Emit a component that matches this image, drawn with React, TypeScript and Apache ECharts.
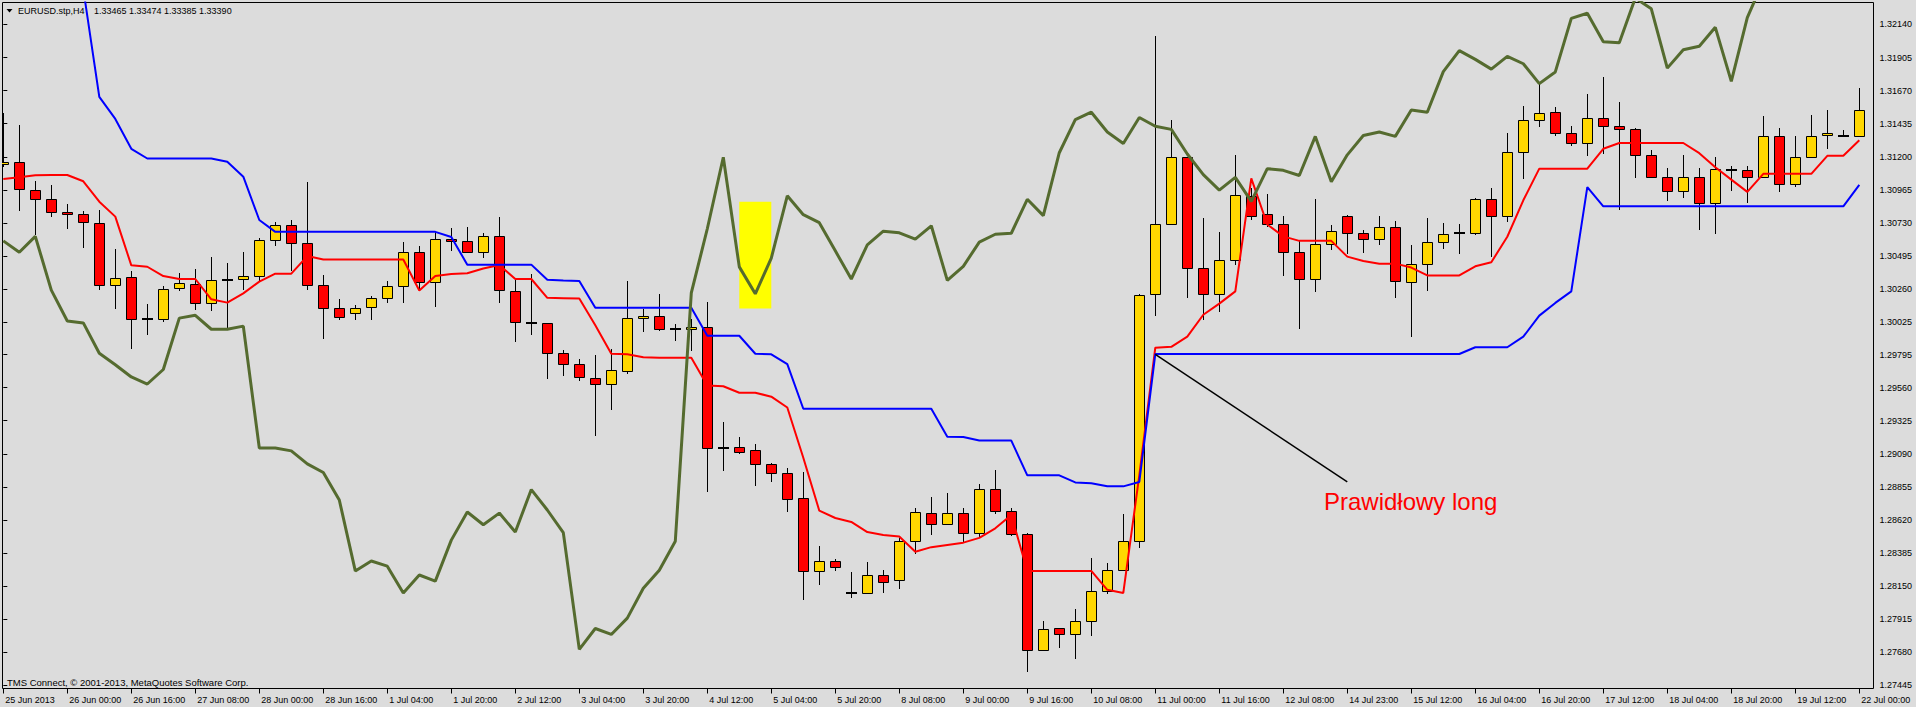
import React, { useEffect, useRef } from "react";
import * as echarts from "echarts";

// ---- tick labels ----
const xTickLabels = [
  "25 Jun 2013", "26 Jun 00:00", "26 Jun 16:00", "27 Jun 08:00", "28 Jun 00:00", "28 Jun 16:00",
  "1 Jul 04:00", "1 Jul 20:00", "2 Jul 12:00", "3 Jul 04:00", "3 Jul 20:00", "4 Jul 12:00",
  "5 Jul 04:00", "5 Jul 20:00", "8 Jul 08:00", "9 Jul 00:00", "9 Jul 16:00", "10 Jul 08:00",
  "11 Jul 00:00", "11 Jul 16:00", "12 Jul 08:00", "14 Jul 23:00", "15 Jul 12:00", "16 Jul 04:00",
  "16 Jul 20:00", "17 Jul 12:00", "18 Jul 04:00", "18 Jul 20:00", "19 Jul 12:00", "22 Jul 00:00",
];
const yTickValues = [
  1.27445, 1.2768, 1.27915, 1.2815, 1.28385, 1.2862, 1.28855, 1.2909, 1.29325, 1.2956, 1.29795,
  1.30025, 1.3026, 1.30495, 1.3073, 1.30965, 1.312, 1.31435, 1.3167, 1.31905, 1.3214,
];

// ---- candles (H4 EURUSD) ----
const opens = [
  1.31149, 1.31161, 1.30962, 1.30898, 1.30806, 1.30792, 1.30728, 1.30287, 1.30344, 1.3005,
  1.3005, 1.30266, 1.30294, 1.30159, 1.30325, 1.3033, 1.30351, 1.30607, 1.30714, 1.30586,
  1.30287, 1.30124, 1.30088, 1.30131, 1.30195, 1.3028, 1.30522, 1.30313, 1.30614, 1.306,
  1.30521, 1.30635, 1.30245, 1.30021, 1.30016, 1.29804, 1.29725, 1.29627, 1.29585, 1.29681,
  1.30053, 1.30071, 1.29975, 1.29975, 1.29994, 1.29129, 1.29136, 1.29115, 1.29016, 1.28952,
  1.28776, 1.28255, 1.28326, 1.28103, 1.28098, 1.28226, 1.28192, 1.28469, 1.28669, 1.2859,
  1.28671, 1.2853, 1.28837, 1.28687, 1.28524, 1.27696, 1.27852, 1.27809, 1.27905, 1.28118,
  1.28268, 1.28468, 1.30225, 1.30726, 1.31198, 1.3041, 1.30225, 1.30469, 1.30922, 1.30791,
  1.30726, 1.30522, 1.30332, 1.30578, 1.30776, 1.30657, 1.30616, 1.30703, 1.3031, 1.30435,
  1.30594, 1.30657, 1.30657, 1.30898, 1.30779, 1.31232, 1.3146, 1.31521, 1.3137, 1.31295,
  1.31479, 1.31417, 1.31395, 1.31216, 1.3106, 1.3096, 1.31054, 1.30875, 1.31107, 1.31104,
  1.3106, 1.31345, 1.3101, 1.31201, 1.31354, 1.31345, 1.31345,
];
const highs = [
  1.31511, 1.31426, 1.31028, 1.31001, 1.30865, 1.30815, 1.30822, 1.30545, 1.30389, 1.30154,
  1.30282, 1.30375, 1.30403, 1.30488, 1.30443, 1.30524, 1.30621, 1.30737, 1.30751, 1.31021,
  1.30361, 1.30188, 1.30147, 1.30211, 1.30318, 1.30595, 1.30566, 1.30668, 1.30696, 1.30703,
  1.30659, 1.30772, 1.30332, 1.30364, 1.30021, 1.29828, 1.29764, 1.29791, 1.29833, 1.30318,
  1.30117, 1.30225, 1.30012, 1.30046, 1.30169, 1.29314, 1.29208, 1.29158, 1.29023, 1.28987,
  1.28961, 1.28434, 1.2834, 1.28254, 1.28323, 1.28263, 1.28491, 1.28705, 1.28783, 1.28812,
  1.28702, 1.28874, 1.28974, 1.28702, 1.2853, 1.27905, 1.27855, 1.2799, 1.2835, 1.28314,
  1.28662, 1.30225, 1.32058, 1.3146, 1.312, 1.30766, 1.30666, 1.31214, 1.30978, 1.30938,
  1.30782, 1.30601, 1.30901, 1.30716, 1.30785, 1.30682, 1.30779, 1.30741, 1.30572, 1.30766,
  1.30728, 1.30726, 1.30907, 1.30979, 1.3137, 1.31564, 1.3172, 1.31554, 1.31417, 1.31648,
  1.31767, 1.31589, 1.31408, 1.31245, 1.3112, 1.31214, 1.3112, 1.31198, 1.31138, 1.31132,
  1.31489, 1.31404, 1.31345, 1.31498, 1.31533, 1.31392, 1.31689,
];
const lows = [
  1.31128, 1.30817, 1.30645, 1.30775, 1.30689, 1.30554, 1.30254, 1.30119, 1.29833, 1.29936,
  1.30029, 1.30249, 1.30112, 1.30107, 1.29975, 1.30254, 1.30313, 1.30569, 1.30391, 1.30254,
  1.29904, 1.30043, 1.30041, 1.30043, 1.30164, 1.30164, 1.30249, 1.30131, 1.30533, 1.30518,
  1.30478, 1.30164, 1.29887, 1.29934, 1.29623, 1.29643, 1.29604, 1.29219, 1.29404, 1.29659,
  1.29958, 1.29965, 1.29894, 1.29823, 1.2882, 1.2897, 1.29087, 1.28864, 1.28892, 1.28679,
  1.28049, 1.2816, 1.28261, 1.28069, 1.28095, 1.28103, 1.28132, 1.28377, 1.28514, 1.28584,
  1.28459, 1.28493, 1.28662, 1.28506, 1.27543, 1.27693, 1.27711, 1.27633, 1.27799, 1.28093,
  1.28265, 1.28421, 1.30069, 1.30719, 1.30194, 1.30044, 1.301, 1.30431, 1.3075, 1.30703,
  1.30351, 1.29978, 1.30241, 1.30538, 1.30507, 1.3052, 1.30572, 1.30194, 1.29922, 1.30244,
  1.30544, 1.30513, 1.30641, 1.30485, 1.30735, 1.31045, 1.31413, 1.31345, 1.31276, 1.31204,
  1.3122, 1.30819, 1.31051, 1.31051, 1.30888, 1.3091, 1.30682, 1.30654, 1.3096, 1.30873,
  1.31057, 1.30951, 1.30988, 1.31194, 1.31254, 1.31345, 1.31345,
];
const closes = [
  1.31163, 1.30969, 1.30898, 1.30806, 1.30792, 1.30735, 1.30287, 1.30337, 1.30046, 1.3005,
  1.30259, 1.30301, 1.30159, 1.30323, 1.30325, 1.30351, 1.30607, 1.30714, 1.30586, 1.30287,
  1.30124, 1.3006, 1.30124, 1.30195, 1.3028, 1.30522, 1.30313, 1.30614, 1.306, 1.30522,
  1.30635, 1.30252, 1.3003, 1.30021, 1.29803, 1.29725, 1.29633, 1.29585, 1.29682, 1.30053,
  1.30071, 1.29975, 1.29975, 1.29993, 1.29128, 1.29129, 1.29105, 1.29016, 1.28952, 1.28767,
  1.28255, 1.28326, 1.28289, 1.28103, 1.28226, 1.28183, 1.28469, 1.28674, 1.28591, 1.28669,
  1.2853, 1.28837, 1.28687, 1.28524, 1.27696, 1.27849, 1.27809, 1.27905, 1.28118, 1.28268,
  1.28474, 1.30216, 1.30726, 1.31198, 1.3041, 1.30225, 1.30469, 1.30926, 1.30782, 1.30726,
  1.30522, 1.30332, 1.30578, 1.30672, 1.30657, 1.30616, 1.30703, 1.30316, 1.30435, 1.30594,
  1.3065, 1.30657, 1.30898, 1.30779, 1.31232, 1.3146, 1.31513, 1.31366, 1.31295, 1.31479,
  1.31417, 1.31398, 1.31216, 1.3106, 1.3096, 1.31054, 1.30875, 1.31113, 1.31107, 1.3106,
  1.31345, 1.3101, 1.31201, 1.31351, 1.3137, 1.31345, 1.31529,
];

// ---- Ichimoku lines ----
const tenkan = [
  1.31042, 1.31055, 1.31069, 1.31071, 1.31071, 1.31026, 1.30881, 1.30775, 1.30429, 1.30419,
  1.30353, 1.30332, 1.30332, 1.30188, 1.30164, 1.3023, 1.30313, 1.3037, 1.3037, 1.30495,
  1.30471, 1.30471, 1.30471, 1.30471, 1.30471, 1.30471, 1.3025, 1.30353, 1.30368, 1.30373,
  1.30407, 1.30432, 1.30332, 1.30332, 1.30198, 1.30196, 1.30193, 1.30004, 1.29801, 1.29797,
  1.29776, 1.29773, 1.29773, 1.29773, 1.29576, 1.2957, 1.29524, 1.29524, 1.29496, 1.29419,
  1.29062, 1.28686, 1.28634, 1.28606, 1.28534, 1.28514, 1.28503, 1.28394, 1.28427, 1.28443,
  1.28459, 1.28493, 1.28561, 1.28656, 1.28258, 1.28258, 1.28258, 1.28258, 1.28258, 1.28124,
  1.28102, 1.28937, 1.29844, 1.2985, 1.29922, 1.30078, 1.30157, 1.30244, 1.31047, 1.30719,
  1.30635, 1.30603, 1.30603, 1.30603, 1.30491, 1.3046, 1.30441, 1.30441, 1.30413, 1.30357,
  1.30357, 1.30357, 1.30422, 1.30451, 1.30632, 1.30891, 1.31116, 1.31116, 1.31116, 1.31116,
  1.31257, 1.31298, 1.31298, 1.31298, 1.31298, 1.31298, 1.31226, 1.31126, 1.31038, 1.30951,
  1.31079, 1.31079, 1.31079, 1.31079, 1.31207, 1.31207, 1.31317,
];
const kijun = [
  null, null, null, null, null, 1.32392, 1.31626, 1.31469, 1.31257, 1.31188,
  1.31188, 1.31188, 1.31188, 1.31188, 1.31165, 1.31059, 1.30751, 1.30667, 1.30667, 1.30667,
  1.30667, 1.30667, 1.30667, 1.30667, 1.30667, 1.30667, 1.30667, 1.30667, 1.3063, 1.30434,
  1.30434, 1.30434, 1.30434, 1.30434, 1.30326, 1.30321, 1.30318, 1.30127, 1.30127, 1.30127,
  1.30127, 1.30127, 1.30127, 1.30127, 1.29929, 1.29929, 1.29929, 1.29801, 1.29797, 1.29727,
  1.2941, 1.2941, 1.2941, 1.2941, 1.2941, 1.2941, 1.2941, 1.2941, 1.2941, 1.29212,
  1.2921, 1.29184, 1.29184, 1.29184, 1.28937, 1.28937, 1.28937, 1.28887, 1.28881, 1.28859,
  1.28859, 1.2889, 1.29799, 1.29799, 1.29799, 1.29799, 1.29799, 1.29799, 1.29799, 1.29799,
  1.29799, 1.29799, 1.29799, 1.29799, 1.29799, 1.29799, 1.29799, 1.29799, 1.29799, 1.29799,
  1.29799, 1.29799, 1.29847, 1.29847, 1.29847, 1.29922, 1.30072, 1.30162, 1.30244, 1.30985,
  1.30848, 1.30848, 1.30848, 1.30848, 1.30848, 1.30848, 1.30848, 1.30848, 1.30848, 1.30848,
  1.30848, 1.30848, 1.30848, 1.30848, 1.30848, 1.30848, 1.31001,
];
const chikou = [
  1.30603, 1.30522, 1.30635, 1.30253, 1.30034, 1.3002, 1.29804, 1.29723, 1.29636, 1.29586,
  1.29689, 1.30054, 1.30074, 1.29975, 1.29975, 1.29997, 1.29131, 1.29131, 1.29111, 1.29019,
  1.28957, 1.28762, 1.28258, 1.28329, 1.28292, 1.28101, 1.28229, 1.28186, 1.28477, 1.28677,
  1.28586, 1.28669, 1.28535, 1.28836, 1.28691, 1.2853, 1.27701, 1.27849, 1.27807, 1.27923,
  1.28135, 1.28263, 1.28469, 1.30233, 1.30689, 1.31197, 1.30418, 1.30227, 1.30481, 1.30923,
  1.30789, 1.30732, 1.30532, 1.30332, 1.30575, 1.30672, 1.3066, 1.30615, 1.3071, 1.30322,
  1.30422, 1.30594, 1.3065, 1.30657, 1.30898, 1.30782, 1.31229, 1.31464, 1.31517, 1.31376,
  1.31295, 1.31479, 1.31417, 1.31395, 1.3122, 1.31073, 1.30963, 1.31054, 1.30883, 1.31116,
  1.31104, 1.31067, 1.31345, 1.31023, 1.31214, 1.31351, 1.31376, 1.31345, 1.31533, 1.31517,
  1.31805, 1.31954, 1.31892, 1.31823, 1.31914, 1.31861, 1.3172, 1.31803, 1.32183, 1.3222,
  1.32017, 1.32011, 1.32328, 1.32251, 1.3183, 1.31961, 1.31986, 1.3212, 1.31736, 1.32189,
  1.32449, null, null, null, null, null, null,
];

// ---- annotations (data coordinates) ----
const highlightBox = [46, 1.3088, 48, 1.30122]; // bar from, price top, bar to, price bottom
const trendLine = [
  [72, 1.29797],
  [84, 1.2889],
];
const titleSymbol = "EURUSD.stp,H4";
const titleQuotes = "1.33465 1.33474 1.33385 1.33390";
const copyright = "TMS Connect, \u00A9 2001-2013, MetaQuotes Software Corp.";
const annotationText = "Prawid\u0142owy long";

const FONT = '"Liberation Sans", Arial, sans-serif';

export default function App() {
  const ref = useRef<HTMLDivElement>(null);

  useEffect(() => {
    document.documentElement.style.margin = "0";
    document.documentElement.style.overflow = "hidden";
    document.body.style.margin = "0";
    document.body.style.overflow = "hidden";
    if (!ref.current) return;
    const chart = echarts.init(ref.current, null, { renderer: "svg", width: 1916, height: 707 });
    const xTickBars = xTickLabels.map((_, i) => i * 4);
    const candleData = opens.map((o, i) => [i, o, closes[i], lows[i], highs[i]]);
    const toPairs = (arr: (number | null)[]) =>
      arr.map((v, i) => [i, v]).filter((d) => d[1] !== null);

    const option: any = {
      animation: false,
      backgroundColor: "#DCDCDC",
      tooltip: { show: false },
      grid: {
        left: 2.5,
        right: 42.5,
        top: 2.5,
        bottom: 18.5,
        show: true,
        borderColor: "#000",
        borderWidth: 1,
        backgroundColor: "transparent",
      },
      xAxis: {
        type: "value",
        min: -0.05,
        max: 116.8875,
        axisLine: { show: false },
        splitLine: { show: false },
        axisTick: { show: true, customValues: xTickBars, length: 5, lineStyle: { color: "#000", width: 1 } },
        axisLabel: {
          customValues: xTickBars,
          formatter: (v: number) => xTickLabels[Math.round(v / 4)] ?? "",
          align: "left",
          margin: 7,
          padding: [0, 0, 0, 2],
          color: "#000",
          fontSize: 9,
          fontFamily: FONT,
        },
      },
      yAxis: {
        type: "value",
        position: "right",
        min: 1.274229,
        max: 1.322962,
        axisLine: { show: false },
        splitLine: { show: false },
        axisTick: { show: true, customValues: yTickValues, length: 4, lineStyle: { color: "#000", width: 1 } },
        axisLabel: {
          customValues: yTickValues,
          formatter: (v: number) => v.toFixed(5),
          margin: 6,
          color: "#000",
          fontSize: 9,
          fontFamily: FONT,
        },
      },
      series: [
        {
          type: "custom",
          name: "box",
          z: 1,
          silent: true,
          clip: true,
          data: [highlightBox],
          encode: { x: [0, 2], y: [1, 3] },
          renderItem: (_p: any, api: any) => {
            const a = api.coord([api.value(0), api.value(1)]);
            const b = api.coord([api.value(2), api.value(3)]);
            return {
              type: "rect",
              shape: { x: a[0], y: a[1], width: b[0] - a[0], height: b[1] - a[1] },
              style: { fill: "#FFFF00" },
            };
          },
        },
        {
          type: "custom",
          name: "candles",
          z: 2,
          silent: true,
          clip: true,
          data: candleData,
          encode: { x: 0, y: [1, 2, 3, 4] },
          renderItem: (_p: any, api: any) => {
            const i = api.value(0);
            const o = api.value(1);
            const c = api.value(2);
            const l = api.value(3);
            const h = api.value(4);
            const pO = api.coord([i, o]);
            const pC = api.coord([i, c]);
            const pL = api.coord([i, l]);
            const pH = api.coord([i, h]);
            const cx = Math.floor(pO[0]) + 0.5;
            const children: any[] = [
              {
                type: "line",
                shape: { x1: cx, y1: Math.round(pH[1]), x2: cx, y2: Math.round(pL[1]) },
                style: { stroke: "#000", lineWidth: 1 },
              },
            ];
            if (Math.abs(o - c) < 1e-7) {
              const y = Math.round(pO[1]);
              children.push({
                type: "line",
                shape: { x1: cx - 5.5, y1: y, x2: cx + 5.5, y2: y },
                style: { stroke: "#000", lineWidth: 2 },
              });
            } else {
              const yo = Math.round(pO[1]) + 0.5;
              const yc = Math.round(pC[1]) + 0.5;
              const top = Math.min(yo, yc);
              const hgt = Math.max(Math.abs(yo - yc), 1);
              children.push({
                type: "rect",
                shape: { x: cx - 5, y: top, width: 10, height: hgt },
                style: { fill: c > o ? "#FFD700" : "#FF0000", stroke: "#000", lineWidth: 1 },
              });
            }
            return { type: "group", children };
          },
        },
        {
          type: "line",
          name: "tenkan",
          z: 3,
          silent: true,
          clip: true,
          showSymbol: false,
          symbol: "none",
          data: toPairs(tenkan),
          lineStyle: { color: "#FF0000", width: 2 },
        },
        {
          type: "line",
          name: "kijun",
          z: 4,
          silent: true,
          clip: true,
          showSymbol: false,
          symbol: "none",
          data: toPairs(kijun),
          lineStyle: { color: "#0000FF", width: 2 },
        },
        {
          type: "line",
          name: "chikou",
          z: 5,
          silent: true,
          clip: true,
          showSymbol: false,
          symbol: "none",
          data: toPairs(chikou),
          lineStyle: { color: "#556B2F", width: 3 },
        },
        {
          type: "line",
          name: "trend",
          z: 6,
          silent: true,
          clip: true,
          showSymbol: false,
          symbol: "none",
          data: trendLine,
          lineStyle: { color: "#000", width: 1.5 },
        },
      ],
      graphic: [
        {
          type: "polygon",
          silent: true,
          shape: { points: [[6.5, 9], [12.5, 9], [9.5, 12.5]] },
          style: { fill: "#000" },
        },
        {
          type: "text",
          silent: true,
          x: 18,
          y: 10.5,
          style: { text: titleSymbol, fill: "#000", font: `9px ${FONT}`, align: "left", verticalAlign: "middle" },
        },
        {
          type: "text",
          silent: true,
          x: 94,
          y: 10.5,
          style: { text: titleQuotes, fill: "#000", font: `9px ${FONT}`, align: "left", verticalAlign: "middle" },
        },
        {
          type: "text",
          silent: true,
          x: 7,
          y: 682,
          style: { text: copyright, fill: "#000", font: `9.5px ${FONT}`, align: "left", verticalAlign: "middle" },
        },
        {
          type: "text",
          silent: true,
          x: 1324,
          y: 501,
          z: 10,
          style: { text: annotationText, fill: "#FF0000", font: `24px ${FONT}`, align: "left", verticalAlign: "middle" },
        },
      ],
    };

    chart.setOption(option);
    return () => chart.dispose();
  }, []);

  return (
    <div
      ref={ref}
      style={{ position: "absolute", left: 0, top: 0, width: 1916, height: 707, background: "#DCDCDC" }}
    />
  );
}
